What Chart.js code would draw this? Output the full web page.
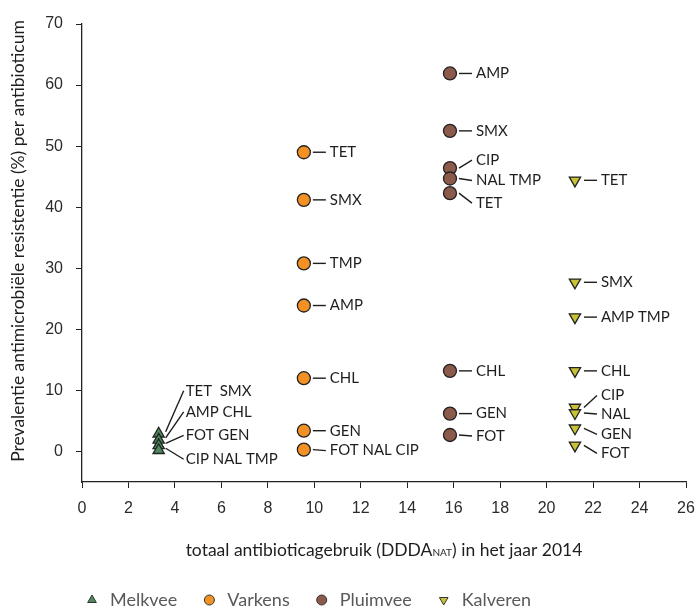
<!DOCTYPE html>
<html>
<head>
<meta charset="utf-8">
<script src="https://cdn.jsdelivr.net/npm/chart.js@4"></script>
<style>
  html, body { margin: 0; padding: 0; background: #fff; }
  #wrap { width: 698px; height: 608px; position: relative; }
</style>
</head>
<body>
<div id="wrap"><canvas id="chart"></canvas></div>
<script>
// species, their total use (x) and the resistance per antibiotic (y)
let species = ['Melkvee', 'Varkens', 'Pluimvee', 'Kalveren'];
let usage = [3.3, 9.55, 15.84, 21.22];

let melkveeValues = [2.9, 1.9, 1.0, 0.2];
let melkveeNames = ['TET  SMX', 'AMP CHL', 'FOT GEN', 'CIP NAL TMP'];

let varkensValues = [49.0, 41.2, 30.8, 23.9, 12.0, 3.4, 0.3];
let varkensNames = ['TET', 'SMX', 'TMP', 'AMP', 'CHL', 'GEN', 'FOT NAL CIP'];

let pluimveeValues = [61.9, 52.5, 46.4, 44.7, 42.3, 13.2, 6.2, 2.7];
let pluimveeNames = ['AMP', 'SMX', 'CIP', 'NAL TMP', 'TET', 'CHL', 'GEN', 'FOT'];

let kalverenValues = [44.4, 27.7, 22.0, 13.2, 7.2, 6.3, 3.8, 1.0];
let kalverenNames = ['TET', 'SMX', 'AMP TMP', 'CHL', 'CIP', 'NAL', 'GEN', 'FOT'];

let xTicks = [0, 2, 4, 6, 8, 10, 12, 14, 16, 18, 20, 22, 24, 26];
let yTicks = [0, 10, 20, 30, 40, 50, 60, 70];

let allValues = [melkveeValues, varkensValues, pluimveeValues, kalverenValues];
let allNames = [melkveeNames, varkensNames, pluimveeNames, kalverenNames];

// label layout (pixels) - where the leader line starts/ends, and vertical shifts for crowded labels
let labelLayout = [
    { sx: 7, sy: -2, ex: 25, tx: 27, dy: [-43, -28, -10, 9] },
    { sx: 9, sy: 0, ex: 22, tx: 26, dy: [0, 0, 0, 0, 0, 0, 1] },
    { sx: 9, sy: 0, ex: 22, tx: 26, dy: [0, 0, -8, 2, 10, 0, 0, 1] },
    { sx: 9, sy: 0, ex: 22, tx: 26, dy: [0, 0, 0, 0, -12, 1, 6, 8] }
];

let fills = ['#4e8a5e', '#f39125', '#8b5a4b', '#c9c236'];
let shapes = ['triangle', 'circle', 'circle', 'triangle'];
let turns = [0, 0, 0, 180];

const labelFont = '15px Lato, "Open Sans", sans-serif';
const titleFont = '17.5px Lato, "Open Sans", sans-serif';
const legendFont = '18px Lato, "Open Sans", sans-serif';

const pointLabels = {
    id: 'pointLabels',
    afterDatasetsDraw(chart) {
        const ctx = chart.ctx;
        ctx.save();
        ctx.font = labelFont;
        ctx.fillStyle = '#1e1e1e';
        ctx.strokeStyle = '#1e1e1e';
        ctx.lineWidth = 1.4;
        ctx.textBaseline = 'middle';
        ctx.textAlign = 'left';
        chart.data.datasets.forEach((ds, i) => {
            const meta = chart.getDatasetMeta(i);
            const lay = labelLayout[i];
            meta.data.forEach((pt, j) => {
                const name = allNames[i][j];
                if (!name) return;
                const ly = pt.y + lay.dy[j];
                ctx.beginPath();
                ctx.moveTo(pt.x + lay.sx, pt.y + lay.sy);
                ctx.lineTo(pt.x + lay.ex, ly);
                ctx.stroke();
                ctx.fillText(name, pt.x + lay.tx, ly);
            });
        });
        ctx.restore();
    }
};

const titlesAndLegend = {
    id: 'titlesAndLegend',
    afterDraw(chart) {
        const ctx = chart.ctx;
        const area = chart.chartArea;
        ctx.save();
        ctx.fillStyle = '#1e1e1e';
        ctx.textBaseline = 'middle';

        // y axis title
        ctx.save();
        ctx.translate(18, 241);
        ctx.rotate(-Math.PI / 2);
        ctx.font = titleFont;
        ctx.textAlign = 'center';
        ctx.fillText('Prevalentie antimicrobiële resistentie (%) per antibioticum', 0, 0);
        ctx.restore();

        // x axis title with subscript
        const parts = [
            ['totaal antibioticagebruik (DDDA', titleFont, 0],
            ['NAT', '10px Lato, "Open Sans", sans-serif', 3],
            [') in het jaar 2014', titleFont, 0]
        ];
        let total = 0;
        parts.forEach(p => { ctx.font = p[1]; total += ctx.measureText(p[0]).width; });
        let x = (area.left + area.right) / 2 - total / 2;
        ctx.textAlign = 'left';
        parts.forEach(p => {
            ctx.font = p[1];
            ctx.fillText(p[0], x, 550 + p[2]);
            x += ctx.measureText(p[0]).width;
        });

        // legend
        let lx = 87;
        const ly = 600;
        ctx.font = legendFont;
        chart.data.datasets.forEach((ds, i) => {
            ctx.fillStyle = ds.backgroundColor;
            ctx.strokeStyle = '#333';
            ctx.lineWidth = 1;
            Chart.helpers.drawPoint(ctx, {
                pointStyle: ds.pointStyle, rotation: ds.rotation || 0,
                radius: 5, borderWidth: 1
            }, lx + 5, ly);
            ctx.fillStyle = '#595959';
            ctx.fillText(ds.label, lx + 23, ly);
            lx += 23 + ctx.measureText(ds.label).width + 27;
        });
        ctx.restore();
    }
};

const datasets = species.map((name, i) => ({
    label: name,
    data: allValues[i].map(v => ({ x: usage[i], y: v })),
    backgroundColor: fills[i],
    borderColor: '#222',
    borderWidth: 1.3,
    pointStyle: shapes[i],
    rotation: turns[i],
    pointRadius: 6.5,
    pointHoverRadius: 6.5
}));

const tickFont = { family: '"Liberation Sans", Arial, sans-serif', size: 16 };

new Chart(document.getElementById('chart'), {
    type: 'scatter',
    data: { datasets: datasets },
    options: {
        responsive: true,
        maintainAspectRatio: false,
        animation: false,
        layout: { padding: { top: 24, right: 12, left: 0, bottom: 0 } },
        plugins: {
            legend: { display: false },
            tooltip: { enabled: false }
        },
        scales: {
            x: {
                type: 'linear',
                min: 0,
                max: 26,
                afterFit: s => { s.height = 126; s.paddingLeft = 0; s.paddingRight = 0; },
                afterBuildTicks: s => { s.ticks = xTicks.map(v => ({ value: v })); },
                ticks: { font: tickFont, color: '#2b2b2b', padding: 11, maxRotation: 0 },
                grid: { drawOnChartArea: false, drawTicks: true, tickLength: 6, color: '#222' },
                border: { display: true, color: '#222', width: 1.3 }
            },
            y: {
                type: 'linear',
                min: -5,
                max: 70,
                afterFit: s => { s.width = 82; s.paddingTop = 0; s.paddingBottom = 0; },
                afterBuildTicks: s => { s.ticks = yTicks.map(v => ({ value: v })); },
                ticks: { font: tickFont, color: '#2b2b2b', padding: 13 },
                grid: { drawOnChartArea: false, drawTicks: true, tickLength: 6, color: '#222' },
                border: { display: true, color: '#222', width: 1.3 }
            }
        }
    },
    plugins: [pointLabels, titlesAndLegend]
});
</script>
</body>
</html>
